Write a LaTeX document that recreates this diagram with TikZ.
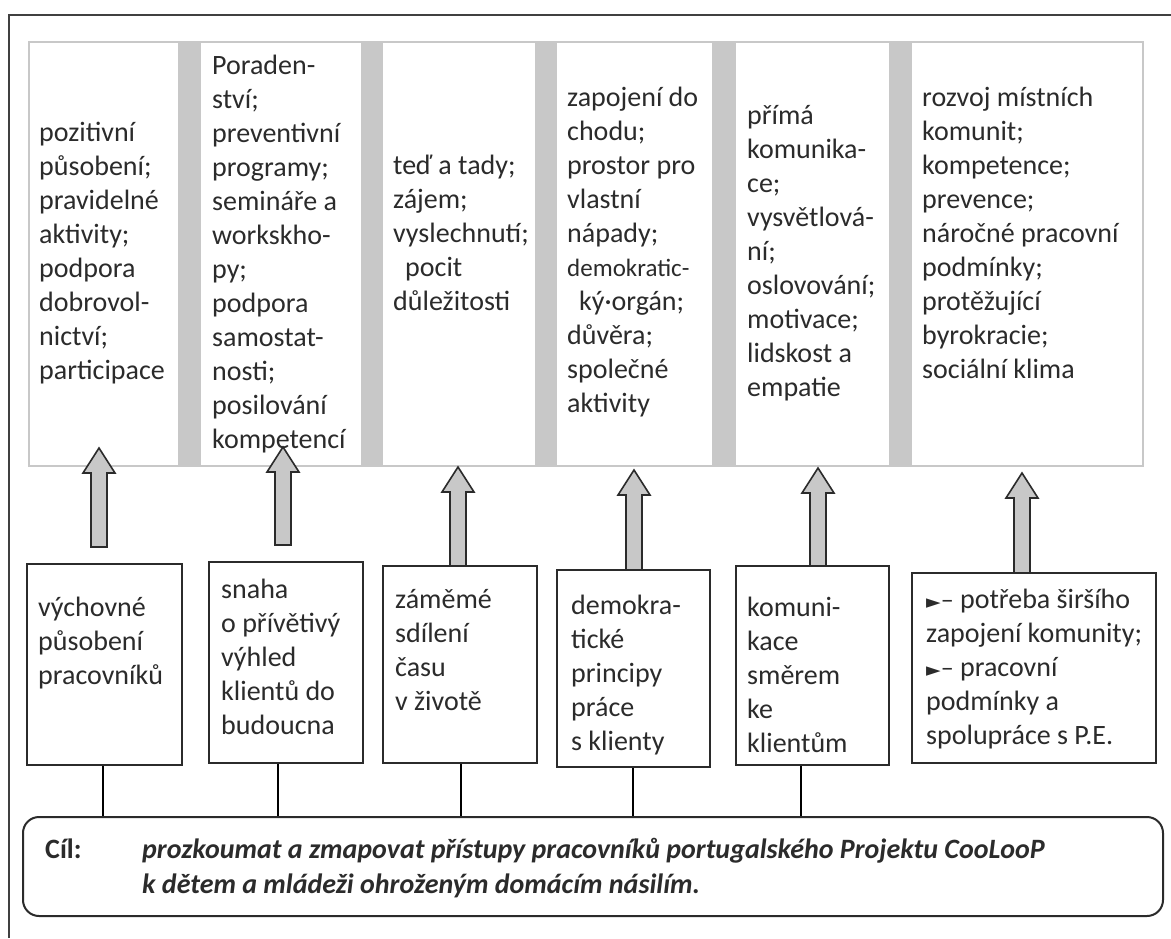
\documentclass[tikz,border=0pt]{standalone}
\usepackage{fontspec}
\setmainfont{Carlito}
\newfontfamily\dejavu{DejaVu Sans}
\definecolor{sepgray}{HTML}{C8C8C8}
\definecolor{ink}{HTML}{2B2B2B}
\definecolor{framecol}{HTML}{404040}
\tikzset{
  coltext/.style={anchor=north west, inner sep=0pt, align=left, text=ink, font=\fontsize{28}{34}\selectfont},
  goaltext/.style={anchor=north west, inner sep=0pt, align=left, text=ink, font=\bfseries\itshape\fontsize{28}{35}\selectfont},
  goallabel/.style={anchor=north west, inner sep=0pt, align=left, text=ink, font=\bfseries\fontsize{28}{35}\selectfont},
  obox/.style={draw=ink, line width=2pt, inner sep=0pt},
  goalbox/.style={draw=ink, line width=2pt, inner sep=0pt, rounded corners=16pt},
  barrow/.style={draw=ink, fill=sepgray, line width=1.6pt, line join=miter},
  link/.style={draw=black, line width=1.6pt},
  sepbar/.style={fill=sepgray, draw=none},
  bandframe/.style={draw=sepgray, line width=1.2pt},
  outerframe/.style={draw=framecol, line width=2pt},
}
\newcommand\blockarrow[3]{%
  \draw[barrow] (#1-8,#2) -- (#1-8,#3+25) -- (#1-16,#3+25) -- (#1,#3)
    -- (#1+16,#3+25) -- (#1+8,#3+25) -- (#1+8,#2) -- cycle;}
\newcommand\pointer{{\dejavu\fontsize{19}{34}\selectfont ►}{\fontsize{26}{34}\selectfont –}}
\begin{document}
\begin{tikzpicture}[x=1pt,y=-1pt]
\useasboundingbox (0,0) rectangle (1171,938);
\fill[white] (0,0) rectangle (1171,938);
% outer frame
\draw[outerframe] (9,938) -- (9,15) -- (1171,15);
% top band
\draw[bandframe] (29,42) rectangle (1143,466);
\fill[sepgray] (178,42) rectangle (201,466);
\fill[sepgray] (361,42) rectangle (383,466);
\fill[sepgray] (535,42) rectangle (557,466);
\fill[sepgray] (712,42) rectangle (736,466);
\fill[sepgray] (889,42) rectangle (912,466);
% column texts
\node[coltext] (c1) at (39,117.7) {\strut pozitivní\\působení;\\pravidelné\\aktivity;\\podpora\\dobrovol-\\nictví;\\participace};
\node[coltext] (c2) at (212,50.7) {\strut Poraden-\\ství;\\preventivní\\programy;\\semináře a\\workskho-\\py;\\podpora\\samostat-\\nosti;\\posilování\\kompetencí};
\node[coltext] (c3) at (393,150.7) {\strut teď a tady;\\zájem;\\vyslechnutí;\\\hspace*{12pt}pocit\\důležitosti};
\node[coltext] (c4) at (567,82.7) {\strut zapojení do\\chodu;\\prostor pro\\vlastní\\nápady;\\{\fontsize{25}{34}\selectfont demokratic-}\\\hspace*{12pt}ký·orgán;\\důvěra;\\společné\\aktivity};
\node[coltext] (c5) at (747,100.7) {\strut přímá\\komunika-\\ce;\\vysvětlová-\\ní;\\oslovování;\\motivace;\\lidskost a\\empatie};
\node[coltext] (c6) at (922,82.7) {\strut rozvoj místních\\komunit;\\kompetence;\\prevence;\\náročné pracovní\\podmínky;\\protěžující\\byrokracie;\\sociální klima};
% bottom boxes
\node[obox, minimum width=155pt, minimum height=201pt] (b1) at (104.5,664.5) {};
\node[obox, minimum width=154pt, minimum height=201pt] (b2) at (286,662.5) {};
\node[obox, minimum width=154pt, minimum height=197pt] (b3) at (460,664.5) {};
\node[obox, minimum width=153pt, minimum height=197pt] (b4) at (633.5,668.5) {};
\node[obox, minimum width=153pt, minimum height=199pt] (b5) at (812.5,665.5) {};
\node[obox, minimum width=244pt, minimum height=190pt] (b6) at (1034,668) {};
\node[coltext] (t1) at (38,592.7) {\strut výchovné\\působení\\pracovníků};
\node[coltext] (t2) at (221,574.7) {\strut snaha\\o přívětivý\\výhled\\klientů do\\budoucna};
\node[coltext] (t3) at (395,584.7) {\strut záměmé\\sdílení\\času\\v životě};
\node[coltext] (t4) at (571,590.7) {\strut demokra-\\tické\\principy\\práce\\s klienty};
\node[coltext] (t5) at (747,592.7) {\strut komuni-\\kace\\směrem\\ke\\klientům};
\node[coltext] (t6) at (926,584.7) {\strut\pointer\ potřeba širšího\\zapojení komunity;\\\pointer\ pracovní\\podmínky a\\spolupráce s P.E.};
% arrows
\blockarrow{99}{547}{448}
\blockarrow{283}{545}{447}
\blockarrow{458}{566}{467}
\blockarrow{634}{570}{470}
\blockarrow{818}{566}{468}
\blockarrow{1022}{573}{473}
% goal box
\node[goalbox, minimum width=1140pt, minimum height=99pt] (g) at (593,866.5) {};
\node[goallabel] (gl) at (45,834.2) {\strut Cíl:};
\node[goaltext] (gt) at (142,834.2) {\strut prozkoumat a zmapovat přístupy pracovníků portugalského Projektu CooLooP\\k dětem a mládeži ohroženým domácím násilím.};
% connectors
\draw[link] ([xshift=-1.5pt]b1.south) -- ([xshift=-1.5pt]b1.south |- g.north);
\draw[link] ([xshift=-8pt]b2.south) -- ([xshift=-8pt]b2.south |- g.north);
\draw[link] ([xshift=1pt]b3.south) -- ([xshift=1pt]b3.south |- g.north);
\draw[link] ([xshift=-0.5pt]b4.south) -- ([xshift=-0.5pt]b4.south |- g.north);
\draw[link] ([xshift=-11.5pt]b5.south) -- ([xshift=-11.5pt]b5.south |- g.north);
\end{tikzpicture}
\end{document}
